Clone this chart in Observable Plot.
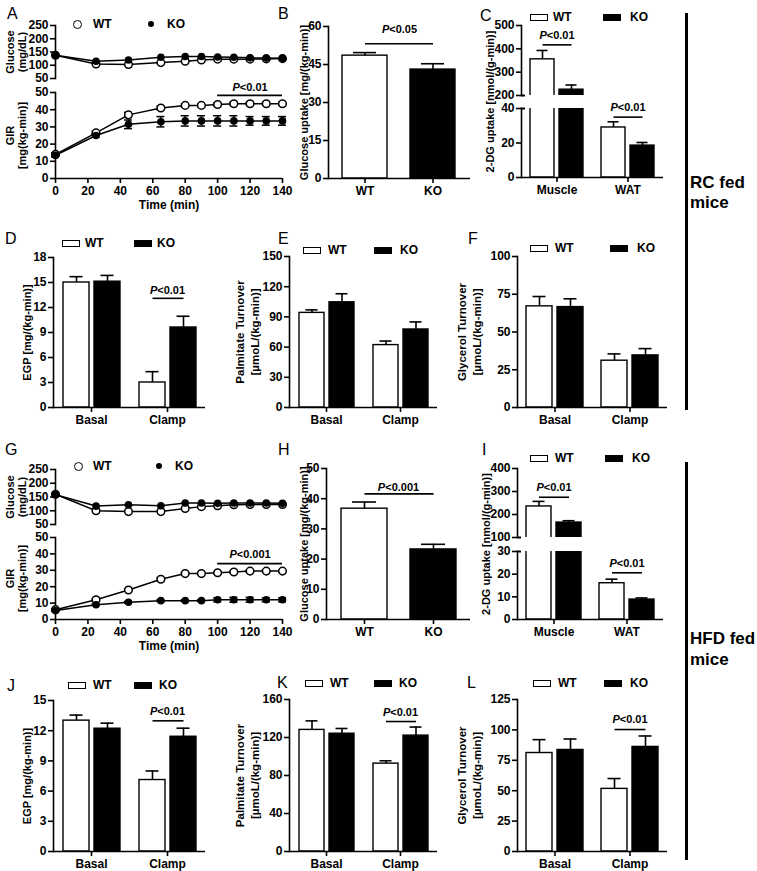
<!DOCTYPE html>
<html><head><meta charset="utf-8">
<script src="https://cdn.jsdelivr.net/npm/d3@7"></script>
<script src="https://cdn.jsdelivr.net/npm/@observablehq/plot@0.6"></script>
<style>
body{margin:0;background:#fff;}
#root{position:relative;width:757px;height:871px;background:#fff;font-family:"Liberation Sans",Arial,sans-serif;overflow:hidden;color:#000}
</style></head><body><div id="root"></div>
<script>
// ---------- data ----------
const genotypes = ["WT", "KO"];
const conditions = ["Basal", "Clamp"];
const tissues = ["Muscle", "WAT"];
const times = [0, 25, 45, 65, 80, 90, 100, 110, 120, 130, 140];
const timeTicks = [0, 20, 40, 60, 80, 100, 120, 140];
const glucoseTicks = [50, 100, 150, 200, 250];
const girTicks = [0, 10, 20, 30, 40, 50];

// A (RC fed clamp)
const aGlucoseWT = [138, 105, 103, 110, 115, 120, 123, 123, 123, 124, 125];
const aGlucoseKO = [138, 115, 120, 130, 133, 133, 131, 130, 128, 127, 126];
const aGirWT = [14, 26.5, 37, 41, 42.5, 42.5, 43, 43.5, 43.5, 43.5, 43.5];
const aGirWTse = [1, 1, 1.5, 1, 0.8, 0.8, 0.8, 0.8, 0.8, 0.8, 0.8];
const aGirKO = [13.5, 25, 31.5, 33, 33.5, 33.5, 33.5, 33.5, 33.5, 33.5, 33.5];
const aGirKOse = [1, 1, 2.5, 3, 3, 3, 3, 3, 2.5, 2.5, 2.5];
// G (HFD fed clamp)
const gGlucoseWT = [160, 100, 97, 97, 108, 115, 118, 122, 123, 123, 123];
const gGlucoseKO = [158, 117, 122, 118, 128, 128, 127, 128, 128, 128, 127];
const gGirWT = [6, 12, 18, 24.5, 28, 28, 28.5, 29, 29.5, 29.5, 29.5];
const gGirWTse = [0.5, 0.6, 0.6, 1, 0.6, 0.6, 0.6, 0.6, 0.6, 0.6, 0.6];
const gGirKO = [5.5, 9, 10.5, 11.5, 11.5, 11.5, 12, 12, 12, 12, 12];
const gGirKOse = [0.5, 0.5, 0.5, 0.5, 0.5, 0.5, 1.2, 1.5, 1.5, 1.2, 1.2];

const bTicks = [0, 15, 30, 45, 60];
const bMean = [48.5, 43.0], bSE = [1.2, 2.3];
const cTicksTop = [200, 300, 400, 500], cTicksBottom = [0, 20, 40];
const cWT = [355, 29], cWTse = [38, 3.3], cKO = [225, 18.5], cKOse = [20, 1.8];
const dTicks = [0, 3, 6, 9, 12, 15, 18];
const dWT = [15, 3], dWTse = [0.7, 1.3], dKO = [15.1, 9.6], dKOse = [0.75, 1.35];
const eTicks = [0, 30, 60, 90, 120, 150];
const eWT = [94, 62], eWTse = [3, 4], eKO = [104.5, 77.5], eKOse = [8.5, 7.5];
const fTicks = [0, 25, 50, 75, 100];
const fWT = [67, 31], fWTse = [6.5, 4.5], fKO = [66.5, 34.5], fKOse = [5.5, 4.5];
const hTicks = [0, 10, 20, 30, 40, 50];
const hMean = [36.7, 23.2], hSE = [2.2, 1.7];
const iTicksTop = [100, 200, 300, 400], iTicksBottom = [0, 10, 20, 30];
const iWT = [235, 16], iWTse = [22, 1.8], iKO = [165, 8.8], iKOse = [8, 0.7];
const jTicks = [0, 3, 6, 9, 12, 15];
const jWT = [13, 7.1], jWTse = [0.55, 0.9], jKO = [12.2, 11.4], jKOse = [0.55, 0.85];
const kTicks = [0, 40, 80, 120, 160];
const kWT = [128, 92.5], kWTse = [9.5, 3], kKO = [124, 122], kKOse = [5.5, 9];
const lTicks = [0, 25, 50, 75, 100, 125];
const lWT = [81, 51.5], lWTse = [11, 8.5], lKO = [83.5, 86], lKOse = [9, 9];

const glucoseTitle = "Glucose\n(mg/dL)";
const girTitle = "GIR\n[mg(kg-min)]";
const uptakeTitle = "Glucose uptake [mg/(kg-min)]";
const dgTitle = "2-DG uptake [nmol/(g-min)]";
const egpTitle = "EGP [mg/(kg-min)]";
const palmTitle = "Palmitate Turnover\n[µmoL/(kg-min)]";
const glyTitle = "Glycerol Turnover\n[µmoL/(kg-min)]";

// ---------- helpers ----------
const root = document.getElementById("root");
const NS = "http://www.w3.org/2000/svg";
const SW = 1.6;
const STYLE = "background:none;overflow:visible;max-width:none;font-family:'Liberation Sans',Arial,sans-serif;font-size:12px;font-weight:bold;color:#000;";

function geo(left, top, x0, x1, y0, y1, mr, mb) {
  return {left, top, marginLeft: x0 - left, marginRight: mr, marginTop: y0 - top, marginBottom: mb,
          width: x1 - left + mr, height: y1 - top + mb};
}
const dimsOf = g => ({width: g.width, height: g.height, marginLeft: g.marginLeft, marginRight: g.marginRight, marginTop: g.marginTop, marginBottom: g.marginBottom});

function italicP(svg) {
  svg.querySelectorAll("text").forEach(t => {
    if (t.children.length === 0 && t.textContent.startsWith("P<")) {
      const rest = t.textContent.slice(1);
      t.textContent = "";
      const a = document.createElementNS(NS, "tspan"); a.setAttribute("font-style", "italic"); a.textContent = "P";
      const b = document.createElementNS(NS, "tspan"); b.textContent = rest;
      t.append(a, b);
    }
  });
}
function place(node, g) {
  node.style.position = "absolute";
  node.style.left = g.left + "px";
  node.style.top = g.top + "px";
  root.appendChild(node);
  italicP(node);
}
function html(css, text) {
  const d = document.createElement("div");
  d.style.cssText = "position:absolute;white-space:nowrap;" + css;
  if (text != null) d.textContent = text;
  root.appendChild(d);
  return d;
}
const letter = (ch, x, yc) => html(`left:${x}px;top:${yc - 7.8}px;font-size:16px;line-height:16px;`, ch);
const legendLabel = (t, x, yc) => html(`left:${x}px;top:${yc - 5.9}px;font-size:12px;line-height:12px;font-weight:bold;`, t);
const legendBox = (x, yc, filled) => html(`left:${x}px;top:${yc - 3.5}px;width:18px;height:7px;box-sizing:border-box;border:1.5px solid #000;background:${filled ? "#000" : "#fff"};`);
const legendCircle = (cx, cy) => html(`left:${cx - 4.5}px;top:${cy - 4.5}px;width:9px;height:9px;box-sizing:border-box;border:1.6px solid #000;border-radius:50%;background:#fff;`);
const legendDot = (cx, cy) => html(`left:${cx - 3}px;top:${cy - 3}px;width:6px;height:6px;border-radius:50%;background:#000;`);

function groupedRows(groups, wt, wtse, ko, kose) {
  return groups.flatMap((g, i) => [{g, k: genotypes[0], v: wt[i], e: wtse[i]}, {g, k: genotypes[1], v: ko[i], e: kose[i]}]);
}
function pairRows(mean, se) { return genotypes.map((k, i) => ({k, v: mean[i], e: se[i]})); }
const seriesRows = (vals, se) => times.map((t, i) => ({t, v: vals[i], e: se ? se[i] : 0}));

const titleMark = (title, extra) => Plot.text([title], {text: d => d, frameAnchor: "left", textAnchor: "middle", lineAnchor: "middle",
  rotate: -90, fontSize: 11, fontWeight: "bold", ...extra});

function barPanel(c) {
  const faceted = !!c.groups;
  const fxo = faceted ? {fx: "g"} : {};
  const marks = [
    Plot.barY(c.rows, {...fxo, x: "k", y: "v", fill: "k", stroke: "black", strokeWidth: 1.4, clip: c.clip}),
    Plot.ruleX(c.rows, {...fxo, x: "k", y1: "v", y2: d => d.v + d.e, stroke: "black", strokeWidth: SW, clip: c.clip}),
    Plot.tickY(c.rows, {...fxo, x: "k", y: d => d.v + d.e, inset: c.cap, stroke: "black", strokeWidth: SW, clip: c.clip}),
    Plot.frame({anchor: "left", stroke: "black", strokeWidth: SW, ...(faceted ? {facet: "super"} : {})}),
    Plot.axisY({ticks: c.ticks, tickSize: 5, tickPadding: 2, fontSize: 12, strokeWidth: SW, label: null})
  ];
  if (c.breakAt != null) {
    // axis-break mark: the break tick also crosses to the right of the axis
    marks.push(Plot.axisY({ticks: [c.breakAt], tickSize: -4, tickFormat: () => "", strokeWidth: 2, label: null}));
  }
  if (c.xAxis !== false) {
    marks.push(Plot.ruleY([c.domain[0]], {stroke: "black", strokeWidth: SW}));
    marks.push((faceted ? Plot.axisFx : Plot.axisX)({anchor: "bottom", tickSize: 5, tickPadding: 3, fontSize: 12, strokeWidth: SW, label: null}));
  }
  if (c.title) {
    marks.push(titleMark(c.title, {...(faceted ? {fx: () => c.groups[0]} : {}), dx: c.titleDx, dy: c.titleDy || 0,
      fontSize: c.tfs || 11, lineHeight: c.lh || 1.4}));
  }
  for (const p of c.pvals || []) {
    marks.push(Plot.link([p], {...fxo, x1: () => genotypes[0], x2: () => genotypes[1], y1: "y", y2: "y", stroke: "black", strokeWidth: SW}));
    marks.push(Plot.text([p], {...fxo, y: "ty", text: "label", fontSize: 11, fontWeight: "bold"}));
  }
  const plot = Plot.plot({
    ...dimsOf(c.g), style: STYLE,
    ...(faceted ? {fx: {domain: c.groups, padding: 0, axis: null, label: null}} : {}),
    x: {domain: genotypes, paddingInner: c.pi, paddingOuter: c.po, axis: null, label: null},
    y: {domain: c.domain, axis: null, label: null},
    color: {domain: genotypes, range: ["white", "black"]},
    marks
  });
  place(plot, c.g);
}

function glucosePanel(c) {
  const W = seriesRows(c.wt), K = seriesRows(c.ko);
  const plot = Plot.plot({
    ...dimsOf(c.g), style: STYLE,
    x: {domain: [timeTicks[0], timeTicks[timeTicks.length - 1]], axis: null},
    y: {domain: [glucoseTicks[0], glucoseTicks[glucoseTicks.length - 1]], axis: null},
    marks: [
      Plot.frame({anchor: "left", stroke: "black", strokeWidth: SW}),
      Plot.axisY({ticks: glucoseTicks, tickSize: 5, tickPadding: 2, fontSize: 12, strokeWidth: SW, label: null}),
      Plot.line(W, {x: "t", y: "v", stroke: "black", strokeWidth: 1.5}),
      Plot.line(K, {x: "t", y: "v", stroke: "black", strokeWidth: 1.5}),
      Plot.dot(W, {x: "t", y: "v", r: 3.8, fill: "white", stroke: "black", strokeWidth: 1.5}),
      Plot.dot(K, {x: "t", y: "v", r: 3.8, fill: "black"}),
      titleMark(glucoseTitle, {dx: -39, lineHeight: 1.1})
    ]
  });
  place(plot, c.g);
}

function girPanel(c) {
  const W = seriesRows(c.wt, c.wtse), K = seriesRows(c.ko, c.kose);
  const err = rows => [
    Plot.ruleX(rows, {x: "t", y1: d => d.v - d.e, y2: d => d.v + d.e, stroke: "black", strokeWidth: 1.5}),
    Plot.ruleY(rows, {y: d => d.v + d.e, x1: "t", x2: "t", insetLeft: -4, insetRight: -4, stroke: "black", strokeWidth: 1.5}),
    Plot.ruleY(rows, {y: d => d.v - d.e, x1: "t", x2: "t", insetLeft: -4, insetRight: -4, stroke: "black", strokeWidth: 1.5})
  ];
  const plot = Plot.plot({
    ...dimsOf(c.g), style: STYLE,
    x: {domain: [timeTicks[0], timeTicks[timeTicks.length - 1]], axis: null},
    y: {domain: [girTicks[0], girTicks[girTicks.length - 1]], axis: null},
    marks: [
      Plot.ruleY([girTicks[0]], {stroke: "black", strokeWidth: SW}),
      Plot.frame({anchor: "left", stroke: "black", strokeWidth: SW}),
      Plot.axisY({ticks: girTicks, tickSize: 5, tickPadding: 2, fontSize: 12, strokeWidth: SW, label: null}),
      Plot.axisX({ticks: timeTicks, tickSize: 5, tickPadding: 3, fontSize: 12, strokeWidth: SW, label: null}),
      ...err(W), ...err(K),
      Plot.line(W, {x: "t", y: "v", stroke: "black", strokeWidth: 1.5}),
      Plot.line(K, {x: "t", y: "v", stroke: "black", strokeWidth: 1.5}),
      Plot.dot(W, {x: "t", y: "v", r: 3.8, fill: "white", stroke: "black", strokeWidth: 1.5}),
      Plot.dot(K, {x: "t", y: "v", r: 3.8, fill: "black"}),
      Plot.ruleY([c.p], {y: "y", x1: "x1", x2: "x2", stroke: "black", strokeWidth: SW}),
      Plot.text([c.p], {x: d => (d.x1 + d.x2) / 2, y: "ty", text: "label", fontSize: 11, fontWeight: "bold"}),
      Plot.text(["Time (min)"], {text: d => d, frameAnchor: "bottom", dy: 30, fontSize: 12, fontWeight: "bold"}),
      titleMark(girTitle, {dx: -39, lineHeight: 1.1})
    ]
  });
  place(plot, c.g);
}

// ---------- layout ----------
const FP = {pi: 0.17, po: 0.28, cap: 6.5};
const PP = {pi: 0.336, po: 0.2, cap: 11};
const TT = {tfs: 11.5, lh: 1.35};

// Row 1
glucosePanel({g: geo(0, 0, 55, 282, 25, 78, 10, 2), wt: aGlucoseWT, ko: aGlucoseKO});
girPanel({g: geo(0, 84, 55, 282, 92, 178, 10, 40), wt: aGirWT, wtse: aGirWTse, ko: aGirKO, kose: aGirKOse,
  p: {x1: 100, x2: 140, y: 48.3, ty: 52.8, label: "P<0.01"}});
barPanel({g: geo(268, 0, 328, 470, 26, 178, 10, 30), rows: pairRows(bMean, bSE), domain: [0, 60], ticks: bTicks, ...PP,
  title: uptakeTitle, titleDx: -25, pvals: [{y: 53.2, ty: 59, label: "P<0.05"}]});
barPanel({g: geo(470, 0, 520, 663, 25, 95, 10, 2), groups: tissues, rows: groupedRows(tissues, cWT, cWTse, cKO, cKOse),
  domain: [200, 500], ticks: cTicksTop, ...FP, xAxis: false, clip: true, breakAt: 200,
  pvals: [{g: tissues[0], y: 417, ty: 457, label: "P<0.01"}]});
barPanel({g: geo(470, 100, 520, 663, 108, 177, 10, 30), groups: tissues, rows: groupedRows(tissues, cWT, cWTse, cKO, cKOse),
  domain: [0, 40], ticks: cTicksBottom, ...FP, clip: true, breakAt: 40, title: dgTitle, titleDx: -32, titleDy: -41.5,
  pvals: [{g: tissues[1], y: 35, ty: 40.8, label: "P<0.01"}]});

// Row 2
barPanel({g: geo(0, 230, 52, 205, 257, 407, 10, 30), groups: conditions, rows: groupedRows(conditions, dWT, dWTse, dKO, dKOse),
  domain: [0, 18], ticks: dTicks, ...FP, title: egpTitle, titleDx: -27,
  pvals: [{g: conditions[1], y: 13.1, ty: 14.1, label: "P<0.01"}]});
barPanel({g: geo(226, 230, 289, 437, 256, 407, 10, 30), groups: conditions, rows: groupedRows(conditions, eWT, eWTse, eKO, eKOse),
  domain: [0, 150], ticks: eTicks, ...FP, title: palmTitle, titleDx: -43, ...TT});
barPanel({g: geo(445, 230, 517, 667, 256, 407, 10, 30), groups: conditions, rows: groupedRows(conditions, fWT, fWTse, fKO, fKOse),
  domain: [0, 100], ticks: fTicks, ...FP, title: glyTitle, titleDx: -49, ...TT});

// Row 3
glucosePanel({g: geo(0, 444, 55, 282, 469, 524, 10, 2), wt: gGlucoseWT, ko: gGlucoseKO});
girPanel({g: geo(0, 530, 55, 282, 537, 619, 10, 40), wt: gGirWT, wtse: gGirWTse, ko: gGirKO, kose: gGirKOse,
  p: {x1: 100, x2: 140, y: 34.1, ty: 39.6, label: "P<0.001"}});
barPanel({g: geo(268, 444, 326, 470, 468, 619, 10, 30), rows: pairRows(hMean, hSE), domain: [0, 50], ticks: hTicks, ...PP,
  title: uptakeTitle, titleDx: -23, pvals: [{y: 41.6, ty: 43.8, label: "P<0.001"}]});
barPanel({g: geo(470, 444, 517, 663, 468, 537, 10, 2), groups: tissues, rows: groupedRows(tissues, iWT, iWTse, iKO, iKOse),
  domain: [100, 400], ticks: iTicksTop, ...FP, xAxis: false, clip: true, breakAt: 100,
  pvals: [{g: tissues[0], y: 275, ty: 318.7, label: "P<0.01"}]});
barPanel({g: geo(470, 540, 517, 663, 551, 619, 10, 30), groups: tissues, rows: groupedRows(tissues, iWT, iWTse, iKO, iKOse),
  domain: [0, 30], ticks: iTicksBottom, ...FP, clip: true, breakAt: 30, title: dgTitle, titleDx: -32, titleDy: -41.5,
  pvals: [{g: tissues[1], y: 20.6, ty: 24.6, label: "P<0.01"}]});

// Row 4
barPanel({g: geo(0, 675, 52, 205, 700, 851, 10, 20), groups: conditions, rows: groupedRows(conditions, jWT, jWTse, jKO, jKOse),
  domain: [0, 15], ticks: jTicks, ...FP, title: egpTitle, titleDx: -27,
  pvals: [{g: conditions[1], y: 12.98, ty: 13.87, label: "P<0.01"}]});
barPanel({g: geo(226, 675, 289, 437, 699, 851, 10, 20), groups: conditions, rows: groupedRows(conditions, kWT, kWTse, kKO, kKOse),
  domain: [0, 160], ticks: kTicks, ...FP, title: palmTitle, titleDx: -43, ...TT,
  pvals: [{g: conditions[1], y: 136.8, ty: 146.6, label: "P<0.01"}]});
barPanel({g: geo(445, 675, 517, 667, 699, 851, 10, 20), groups: conditions, rows: groupedRows(conditions, lWT, lWTse, lKO, lKOse),
  domain: [0, 125], ticks: lTicks, ...FP, title: glyTitle, titleDx: -49, ...TT,
  pvals: [{g: conditions[1], y: 100.3, ty: 108.3, label: "P<0.01"}]});

// ---------- decorations ----------
[["A", 7, 14], ["B", 278, 14], ["C", 480, 16], ["D", 5, 239], ["E", 278, 239], ["F", 468, 239],
 ["G", 5, 450], ["H", 278, 450], ["I", 482, 450], ["J", 7, 686], ["K", 277, 683], ["L", 467, 683]]
  .forEach(([ch, x, y]) => letter(ch, x, y));

// circle legends (A, G)
[[77.5, 24, 93, 151, 167], [78, 466, 93, 159, 175]].forEach(([cx, cy, tx, dx, kx]) => {
  legendCircle(cx, cy); legendLabel(genotypes[0], tx, cy);
  legendDot(dx, cy); legendLabel(genotypes[1], kx, cy);
});
// box legends
[[530, 17, 553, 603, 630], [62, 243, 85, 134, 157], [303, 250, 328, 374, 400], [530, 248, 555, 610, 637],
 [530, 458, 555, 605, 632], [68, 685, 93, 134, 159], [305, 683, 330, 374, 399], [533, 683, 558, 604, 630]]
  .forEach(([bx, y, tx, kbx, ktx]) => {
    legendBox(bx, y, false); legendLabel(genotypes[0], tx, y);
    legendBox(kbx, y, true); legendLabel(genotypes[1], ktx, y);
  });

// group brackets and side labels
html("left:684.5px;top:13px;width:3px;height:397px;background:#000;");
html("left:684.5px;top:462px;width:3px;height:398px;background:#000;");
html("left:690px;top:173.7px;font-size:17px;line-height:17px;font-weight:bold;", "RC fed");
html("left:690px;top:194.2px;font-size:17px;line-height:17px;font-weight:bold;", "mice");
html("left:690px;top:630px;font-size:17px;line-height:17px;font-weight:bold;", "HFD fed");
html("left:690px;top:650.5px;font-size:17px;line-height:17px;font-weight:bold;", "mice");
</script></body></html>
